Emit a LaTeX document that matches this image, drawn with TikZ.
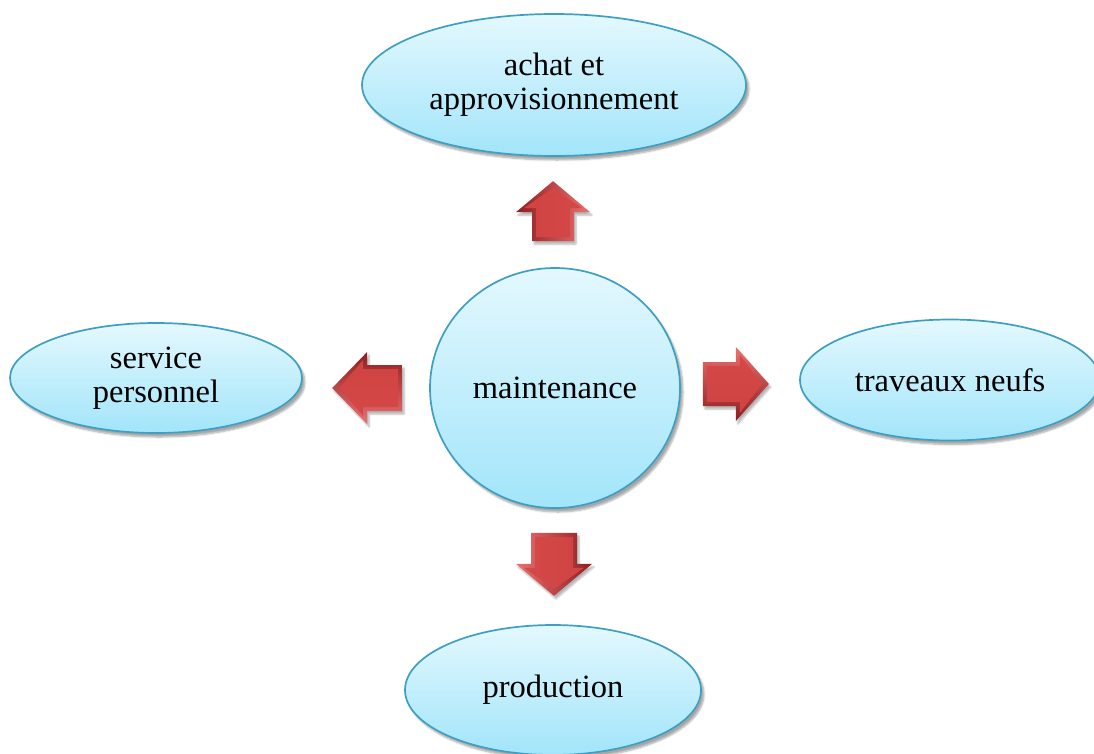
\documentclass[tikz,border=0pt]{standalone}
\usepackage{fontspec}
\setmainfont{Liberation Serif}
\usetikzlibrary{shapes.geometric,shadows.blur,calc}

\definecolor{bubbletop}{HTML}{E4F8FE}
\definecolor{bubblebot}{HTML}{A2E5FA}
\definecolor{bubbleedge}{HTML}{3F9FC2}
\definecolor{arrowlight}{HTML}{EC7070}
\definecolor{arrowmid}{HTML}{CF4343}
\definecolor{arrowbody}{HTML}{D44848}
\definecolor{arrowdark}{HTML}{8E1E20}

\tikzset{
  bubble/.style={ellipse, draw=bubbleedge, line width=1.7pt,
    top color=bubbletop, bottom color=bubblebot, inner sep=0pt,
    align=center, font=\fontsize{32.5}{34}\selectfont,
    blur shadow={shadow xshift=3pt, shadow yshift=-4pt,
      shadow blur steps=6, shadow opacity=35}},
  arrowrim/.style={shading=axis, top color=arrowlight, bottom color=arrowdark,
    blur shadow={shadow xshift=2pt, shadow yshift=-3pt,
      shadow blur steps=5, shadow opacity=30}},
  arrowface/.style={shading=axis, top color=arrowbody, bottom color=arrowmid},
}

% bevelled block arrow: tail point, direction, length, head half width,
% shaft half width, head length
\newcommand\bevelarrow[6]{%
  \begin{scope}[shift={(#1)}, rotate=#2]
    \path[arrowrim, shading angle={-#2}]
      (0,-#5) -- ({#3-#6},-#5) -- ({#3-#6},-#4) -- (#3,0)
      -- ({#3-#6},#4) -- ({#3-#6},#5) -- (0,#5) -- cycle;
    \path[arrowface, shading angle={-#2}]
      (4,{-#5+4}) -- ({#3-#6+4},{-#5+4}) -- ({#3-#6+4},{-#4+8}) -- ({#3-7},0)
      -- ({#3-#6+4},{#4-8}) -- ({#3-#6+4},{#5-4}) -- (4,{#5-4}) -- cycle;
  \end{scope}}

\begin{document}
\begin{tikzpicture}[x=1pt, y=-1pt]
  \useasboundingbox (0,0) rectangle (1094,753);

  \node[bubble, minimum width=384pt, minimum height=142pt] (achat) at (554,85)
    {achat et\\approvisionnement};
  \node[bubble, minimum width=292pt, minimum height=110pt] (service) at (156,378)
    {service\\personnel};
  \node[bubble, minimum width=300pt, minimum height=121pt] (travaux) at (950,380)
    {traveaux neufs};
  \node[bubble, minimum width=296pt, minimum height=130pt] (production) at (553,690)
    {production};
  \node[bubble, minimum width=250pt, minimum height=240pt] (hub) at (555,388)
    {maintenance};

  % arrow tails sit just outside the central circle
  \coordinate (upT) at ($(hub.north)+(-2,-26)$);
  \coordinate (leftT) at ($(hub.west)+(-27,0)$);
  \coordinate (rightT) at ($(hub.east)+(22,-4)$);
  \coordinate (downT) at ($(hub.south)+(-1,24)$);

  \bevelarrow{upT}{90}{60}{37}{21}{31}
  \bevelarrow{leftT}{180}{70}{36}{23}{35}
  \bevelarrow{rightT}{0}{66}{37}{22}{33}
  \bevelarrow{downT}{270}{63}{38}{23}{32}
\end{tikzpicture}
\end{document}
